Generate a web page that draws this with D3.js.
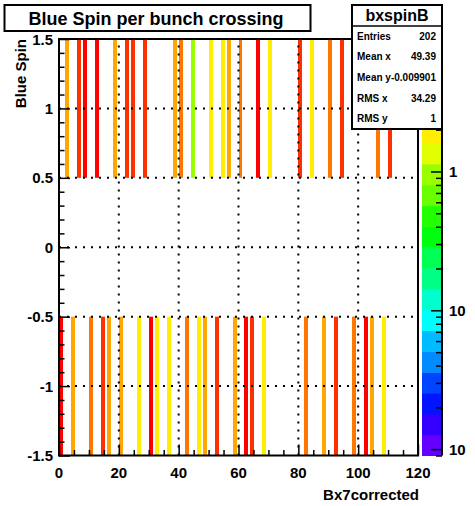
<!DOCTYPE html>
<html>
<head>
<meta charset="utf-8">
<script src="https://cdn.jsdelivr.net/npm/d3@7"></script>
<style>
  html, body { margin: 0; padding: 0; background: #fff; }
  svg { display: block; }
  text { font-family: "Liberation Sans", Arial, Helvetica, sans-serif; font-weight: bold; fill: #000; }
</style>
</head>
<body>
<svg id="chart" width="475" height="506"></svg>
<script>
// ---------------- data ----------------
const titleText = "Blue Spin per bunch crossing";
const xTitle = "Bx7corrected";
const yTitle = "Blue Spin";
// Bx bins with spin +1 (y bin 0.5..1.5)
const topBins   = [2, 6, 8, 12, 18, 22, 24, 28, 38, 40, 44, 50, 54, 56, 60, 66, 70, 80, 84, 90, 94, 106, 110];
const topCounts = [3, 6, 8, 8, 3, 6, 6, 5, 3, 4, 1, 2, 2, 3, 4, 8, 2, 6, 2, 4, 5, 4, 5];
// Bx bins with spin -1 (y bin -1.5..-0.5)
const bottomBins   = [0, 4, 10, 14, 16, 20, 26, 30, 32, 36, 42, 46, 48, 52, 58, 62, 64, 68, 82, 88, 92, 98, 102, 104, 108];
const bottomCounts = [9, 3, 4, 5, 3, 3, 2, 8, 2, 2, 4, 2, 3, 6, 3, 8, 5, 2, 4, 3, 5, 4, 7, 3, 2];
const xTickValues = [0, 20, 40, 60, 80, 100, 120];
const yTickValues = [-1.5, -1, -0.5, 0, 0.5, 1, 1.5];
const yTickLabels = ["-1.5", "-1", "-0.5", "0", "0.5", "1", "1.5"];
const zTickValues = [1, 0.1, 0.01];
const zTickLabels = ["1", "10", "10"];
const statsName = "bxspinB";
const statsLabels = ["Entries", "Mean x", "Mean y", "RMS x", "RMS y"];
const statsValues = ["202", "49.39", "-0.009901", "34.29", "1"];

// ---------------- layout ----------------
const svg = d3.select("#chart");
const frame = { left: 59, right: 418, top: 39, bottom: 455.5 };
const x = d3.scaleLinear().domain([0, 120]).range([frame.left, frame.right]);
const y = d3.scaleLinear().domain([-1.5, 1.5]).range([frame.bottom, frame.top]);

// colour levels (ROOT pretty palette, 20 contours, log z)
const nLevels = 20, nColors = 50;
const zmax = d3.max(topCounts.concat(bottomCounts));
const zmaxLog = Math.log10(zmax), zminLog = zmaxLog - 3;
const dz = (zmaxLog - zminLog) / nLevels;
function levelColor(k) {
  const idx = Math.floor((k + 0.99) * nColors / nLevels);
  const hue = 280 - (idx + 1) * (280 / nColors);
  return d3.hsl(hue, 1, 0.5).formatHex();
}
function valueColor(v) {
  const k = Math.max(0, Math.min(nLevels - 1, Math.floor((Math.log10(v) - zminLog) / dz)));
  return levelColor(k);
}

// ---------------- cells ----------------
const cells = [];
topBins.forEach((b, i) => cells.push({ bx: b, ylo: 0.5, yhi: 1.5, v: topCounts[i] }));
bottomBins.forEach((b, i) => cells.push({ bx: b, ylo: -1.5, yhi: -0.5, v: bottomCounts[i] }));

svg.append("g").selectAll("rect").data(cells).join("rect")
  .attr("x", d => Math.round(x(d.bx)))
  .attr("width", d => Math.round(x(d.bx + 1)) - Math.round(x(d.bx)) + 1)
  .attr("y", d => y(d.yhi))
  .attr("height", d => y(d.ylo) - y(d.yhi))
  .attr("fill", d => valueColor(d.v));

// ---------------- grid ----------------
const grid = svg.append("g").attr("stroke", "#000").attr("stroke-width", 2).attr("stroke-dasharray", "2 6");
grid.selectAll("line.gx").data([20, 40, 60, 80, 100]).join("line")
  .attr("x1", d => x(d)).attr("x2", d => x(d)).attr("y1", frame.bottom).attr("y2", frame.top);
grid.selectAll("line.gy").data([-1, -0.5, 0, 0.5, 1]).join("line")
  .attr("y1", d => y(d)).attr("y2", d => y(d)).attr("x1", frame.left).attr("x2", frame.right);

// ---------------- axes ----------------
const xAxisMajor = d3.axisTop(x).tickValues(xTickValues).tickSize(11).tickFormat("");
const xAxisMinor = d3.axisTop(x).tickValues(d3.range(0, 121, 5).filter(v => v % 20 !== 0)).tickSize(5.5).tickFormat("");
const gx1 = svg.append("g").attr("transform", `translate(0,${frame.bottom})`).call(xAxisMajor);
const gx2 = svg.append("g").attr("transform", `translate(0,${frame.bottom})`).call(xAxisMinor);
[gx1, gx2].forEach(g => { g.select(".domain").remove(); g.selectAll("line").attr("stroke", "#000").attr("stroke-width", 1.5); });

const yMinorVals = d3.range(-15, 16).map(v => v / 10).filter(v => Math.abs(v * 2 - Math.round(v * 2)) > 1e-6);
const yAxisMajor = d3.axisRight(y).tickValues(yTickValues).tickSize(11).tickFormat("");
const yAxisMinor = d3.axisRight(y).tickValues(yMinorVals).tickSize(5.5).tickFormat("");
const gy1 = svg.append("g").attr("transform", `translate(${frame.left},0)`).call(yAxisMajor);
const gy2 = svg.append("g").attr("transform", `translate(${frame.left},0)`).call(yAxisMinor);
[gy1, gy2].forEach(g => { g.select(".domain").remove(); g.selectAll("line").attr("stroke", "#000").attr("stroke-width", 1.5); });

// frame
svg.append("rect").attr("x", frame.left).attr("y", frame.top)
  .attr("width", frame.right - frame.left).attr("height", frame.bottom - frame.top)
  .attr("fill", "none").attr("stroke", "#000").attr("stroke-width", 2);

// tick labels
svg.append("g").selectAll("text").data(xTickValues).join("text")
  .attr("x", d => x(d)).attr("y", 478).attr("text-anchor", "middle")
  .attr("font-size", 15).text(d => d);
svg.append("g").selectAll("text").data(yTickValues).join("text")
  .attr("x", 53).attr("y", d => y(d) + 5.5).attr("text-anchor", "end")
  .attr("font-size", 15).text((d, i) => yTickLabels[i]);

// axis titles
svg.append("text").attr("x", frame.right + 1).attr("y", 500).attr("text-anchor", "end")
  .attr("font-size", 15).text(xTitle);
svg.append("text").attr("transform", `translate(26,${frame.top}) rotate(-90)`)
  .attr("text-anchor", "end").attr("font-size", 15).text(yTitle);

// ---------------- palette ----------------
const pal = { left: 422, right: 442 };
const z = d3.scaleLinear().domain([zminLog, zmaxLog]).range([frame.bottom, frame.top]);
svg.append("g").selectAll("rect").data(d3.range(nLevels)).join("rect")
  .attr("x", pal.left).attr("width", pal.right - pal.left)
  .attr("y", k => z(zminLog + (k + 1) * dz))
  .attr("height", k => z(zminLog + k * dz) - z(zminLog + (k + 1) * dz) + 0.5)
  .attr("fill", k => levelColor(k));
// palette axis (log)
const zMinor = [];
for (let e = -3; e <= 1; e++) for (let m = 2; m <= 9; m++) {
  const v = m * Math.pow(10, e);
  const lv = Math.log10(v);
  if (lv >= zminLog && lv <= zmaxLog) zMinor.push(lv);
}
const zAxisMajor = d3.axisLeft(z).tickValues(zTickValues.map(v => Math.log10(v))).tickSize(11).tickFormat("");
const zAxisMinor = d3.axisLeft(z).tickValues(zMinor).tickSize(6).tickFormat("");
const gz1 = svg.append("g").attr("transform", `translate(${pal.right},0)`).call(zAxisMajor);
const gz2 = svg.append("g").attr("transform", `translate(${pal.right},0)`).call(zAxisMinor);
[gz1, gz2].forEach(g => { g.select(".domain").remove(); g.selectAll("line").attr("stroke", "#000").attr("stroke-width", 1.5); });
svg.append("line").attr("x1", pal.right).attr("x2", pal.right).attr("y1", frame.top).attr("y2", frame.bottom)
  .attr("stroke", "#000").attr("stroke-width", 2);
svg.append("g").selectAll("text").data(zTickValues).join("text")
  .attr("x", 449).attr("y", d => z(Math.log10(d)) + 5.5).attr("font-size", 15)
  .text((d, i) => zTickLabels[i]);

// ---------------- title box ----------------
svg.append("rect").attr("x", 4.5).attr("y", 5).attr("width", 306).attr("height", 26)
  .attr("fill", "#fff").attr("stroke", "#000").attr("stroke-width", 2);
svg.append("text").attr("x", 156).attr("y", 24.5).attr("text-anchor", "middle")
  .attr("font-size", 18).text(titleText);

// ---------------- stats box ----------------
const sb = { x: 352, y: 5, w: 90, h: 124, head: 26 };
svg.append("rect").attr("x", sb.x).attr("y", sb.y).attr("width", sb.w).attr("height", sb.h)
  .attr("fill", "#fff").attr("stroke", "#000").attr("stroke-width", 2);
svg.append("line").attr("x1", sb.x).attr("x2", sb.x + sb.w).attr("y1", sb.head).attr("y2", sb.head)
  .attr("stroke", "#000").attr("stroke-width", 1.5);
svg.append("text").attr("x", sb.x + sb.w / 2).attr("y", 21).attr("text-anchor", "middle")
  .attr("font-size", 16).text(statsName);
const rowH = (sb.y + sb.h - sb.head) / statsLabels.length;
const rows = svg.append("g").selectAll("g").data(statsLabels).join("g")
  .attr("transform", (d, i) => `translate(0,${sb.head + rowH * (i + 0.5) + 3.5})`);
rows.append("text").attr("x", 357).attr("font-size", 10).text(d => d);
rows.append("text").attr("x", 436).attr("text-anchor", "end").attr("font-size", 10).text((d, i) => statsValues[i]);
</script>
</body>
</html>
